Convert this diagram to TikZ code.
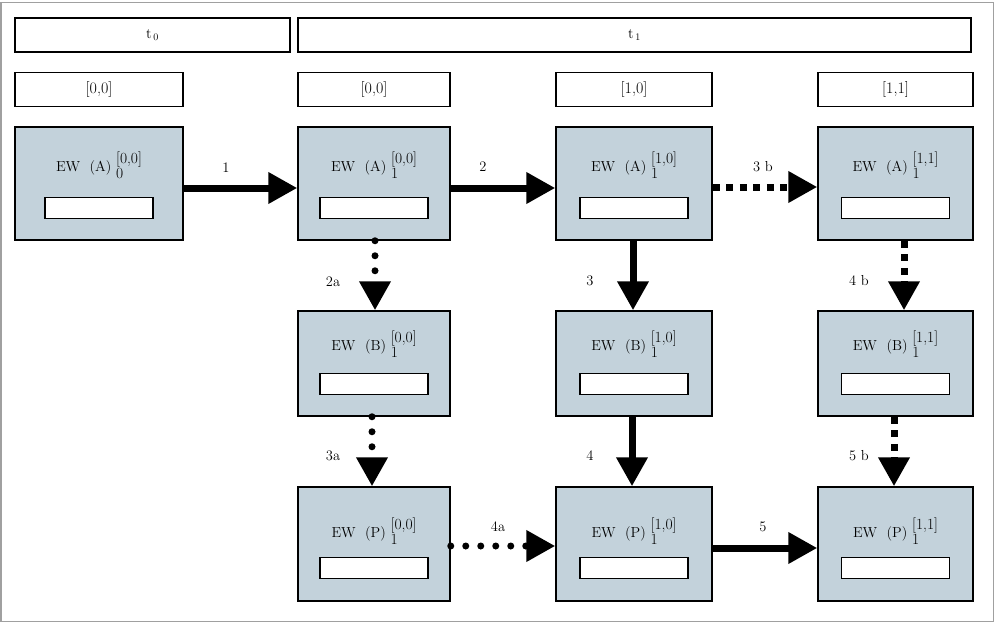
\documentclass[tikz,border=0pt]{standalone}
\usepackage{fontspec}
\usepackage{tikz}
\usetikzlibrary{arrows.meta,positioning}

\definecolor{ewfill}{RGB}{195,210,219}
\definecolor{framegray}{RGB}{160,160,160}
\newcommand{\ewidx}[2]{{\fontsize{15.5}{15}\selectfont\begin{tabular}[c]{@{}l@{}}#1\\#2\end{tabular}}}

\begin{document}
\begin{tikzpicture}[x=1pt,y=-1pt,
		every node/.style={font=\fontsize{14.5}{17}\selectfont},
		head/.style={draw,line width=1.5pt,minimum height=34pt,inner sep=0pt},
		state/.style={head,font=\fontsize{16}{18}\selectfont},
		ewbox/.style={draw,line width=1.5pt,fill=ewfill,inner sep=0pt},
		slot/.style={draw,line width=1.5pt,fill=white,minimum width=108pt,minimum height=21pt,inner sep=0pt},
		ewtext/.style={anchor=base,inner sep=0pt},
		flow/.style={line width=7pt,-{Triangle[length=29pt,width=30pt]}},
		dotflow/.style={flow,line cap=round,dash pattern=on 0pt off 15pt},
		sqflow/.style={flow,dash pattern=on 7pt off 6.5pt}]
	\useasboundingbox (0,0) rectangle (995,623);
	\draw[framegray,line width=1.5pt] (1,2.5) rectangle (993.5,621.5);

	% time and state headers
	\node[head,minimum width=275pt] (t0) at (152.5,35) {\(\mathrm{t}_{\,0}\)};
	\node[head,minimum width=673pt] (t1) at (634.5,35) {\(\mathrm{t}_{\,1}\)};
	\node[state,minimum width=168pt] (s0) at (99,89.5) {[0,0]};
	\node[state,minimum width=152pt] (s00) at (374,89.5) {[0,0]};
	\node[state,minimum width=156pt] (s10) at (634,89.5) {[1,0]};
	\node[state,minimum width=155pt] (s11) at (895.5,89.5) {[1,1]};

	% row A
	\node[ewbox,minimum width=168pt,minimum height=113pt] (a0) at (99,183.5) {};
	\node[ewtext] at ([yshift=-45pt]a0.north) {EW~~(A)~\ewidx{[0,0]}{0}};
	\node[slot] at ([yshift=-81.5pt]a0.north) {};
	\node[ewbox,minimum width=152pt,minimum height=113pt] (a00) at (374,183.5) {};
	\node[ewtext] at ([yshift=-45pt]a00.north) {EW~~(A)~\ewidx{[0,0]}{1}};
	\node[slot] at ([yshift=-81.5pt]a00.north) {};
	\node[ewbox,minimum width=156pt,minimum height=113pt] (a10) at (634,183.5) {};
	\node[ewtext] at ([yshift=-45pt]a10.north) {EW~~(A)~\ewidx{[1,0]}{1}};
	\node[slot] at ([yshift=-81.5pt]a10.north) {};
	\node[ewbox,minimum width=155pt,minimum height=113pt] (a11) at (895.5,183.5) {};
	\node[ewtext] at ([yshift=-45pt]a11.north) {EW~~(A)~\ewidx{[1,1]}{1}};
	\node[slot] at ([yshift=-81.5pt]a11.north) {};

	% row B
	\node[ewbox,minimum width=152pt,minimum height=105pt] (b00) at (374,363.5) {};
	\node[ewtext] at ([yshift=-40pt]b00.north) {EW~~(B)~\ewidx{[0,0]}{1}};
	\node[slot] at ([yshift=-73.5pt]b00.north) {};
	\node[ewbox,minimum width=156pt,minimum height=105pt] (b10) at (634,363.5) {};
	\node[ewtext] at ([yshift=-40pt]b10.north) {EW~~(B)~\ewidx{[1,0]}{1}};
	\node[slot] at ([yshift=-73.5pt]b10.north) {};
	\node[ewbox,minimum width=155pt,minimum height=105pt] (b11) at (895.5,363.5) {};
	\node[ewtext] at ([yshift=-40pt]b11.north) {EW~~(B)~\ewidx{[1,1]}{1}};
	\node[slot] at ([yshift=-73.5pt]b11.north) {};

	% row P
	\node[ewbox,minimum width=152pt,minimum height=114pt] (p00) at (374,544) {};
	\node[ewtext] at ([yshift=-51pt]p00.north) {EW~~(P)~\ewidx{[0,0]}{1}};
	\node[slot] at ([yshift=-81.5pt]p00.north) {};
	\node[ewbox,minimum width=156pt,minimum height=114pt] (p10) at (634,544) {};
	\node[ewtext] at ([yshift=-51pt]p10.north) {EW~~(P)~\ewidx{[1,0]}{1}};
	\node[slot] at ([yshift=-81.5pt]p10.north) {};
	\node[ewbox,minimum width=155pt,minimum height=114pt] (p11) at (895.5,544) {};
	\node[ewtext] at ([yshift=-51pt]p11.north) {EW~~(P)~\ewidx{[1,1]}{1}};
	\node[slot] at ([yshift=-81.5pt]p11.north) {};

	% flows
	\draw[flow] ([yshift=-4.5pt]a0.east) -- ([yshift=-4.5pt]a00.west);
	\draw[flow] ([yshift=-4.5pt]a00.east) -- ([yshift=-4.5pt]a10.west);
	\draw[sqflow] ([yshift=-3.5pt]a10.east) -- ([yshift=-3.5pt]a11.west);
	\draw[dotflow] ([xshift=1pt]a00.south) -- ([xshift=1pt]b00.north);
	\draw[dotflow] ([xshift=-2pt]b00.south) -- ([xshift=-2pt]p00.north);
	\draw[dotflow] ([yshift=-2pt]p00.east) -- ([yshift=-2pt]p10.west);
	\draw[flow] ([xshift=-1pt]a10.south) -- ([xshift=-1pt]b10.north);
	\draw[flow] ([xshift=-2pt]b10.south) -- ([xshift=-2pt]p10.north);
	\draw[flow] ([yshift=-4pt]p10.east) -- ([yshift=-4pt]p11.west);
	\draw[sqflow] ([xshift=8.5pt]a11.south) -- ([xshift=8.5pt]b11.north);
	\draw[sqflow] ([xshift=-1.5pt]b11.south) -- ([xshift=-1.5pt]p11.north);

	% flow labels
	\node (l1) at (226,168) {1};
	\node (l2) at (483,167) {2};
	\node (l3b) at (763,167) {3 b};
	\node (l2a) at (333,282) {2a};
	\node (l3) at (590,281) {3};
	\node (l4b) at (859,281) {4 b};
	\node (l3a) at (333,456) {3a};
	\node (l4) at (590,456) {4};
	\node (l5b) at (859,456) {5 b};
	\node (l4a) at (498,527) {4a};
	\node (l5) at (763,527) {5};
\end{tikzpicture}
\end{document}
